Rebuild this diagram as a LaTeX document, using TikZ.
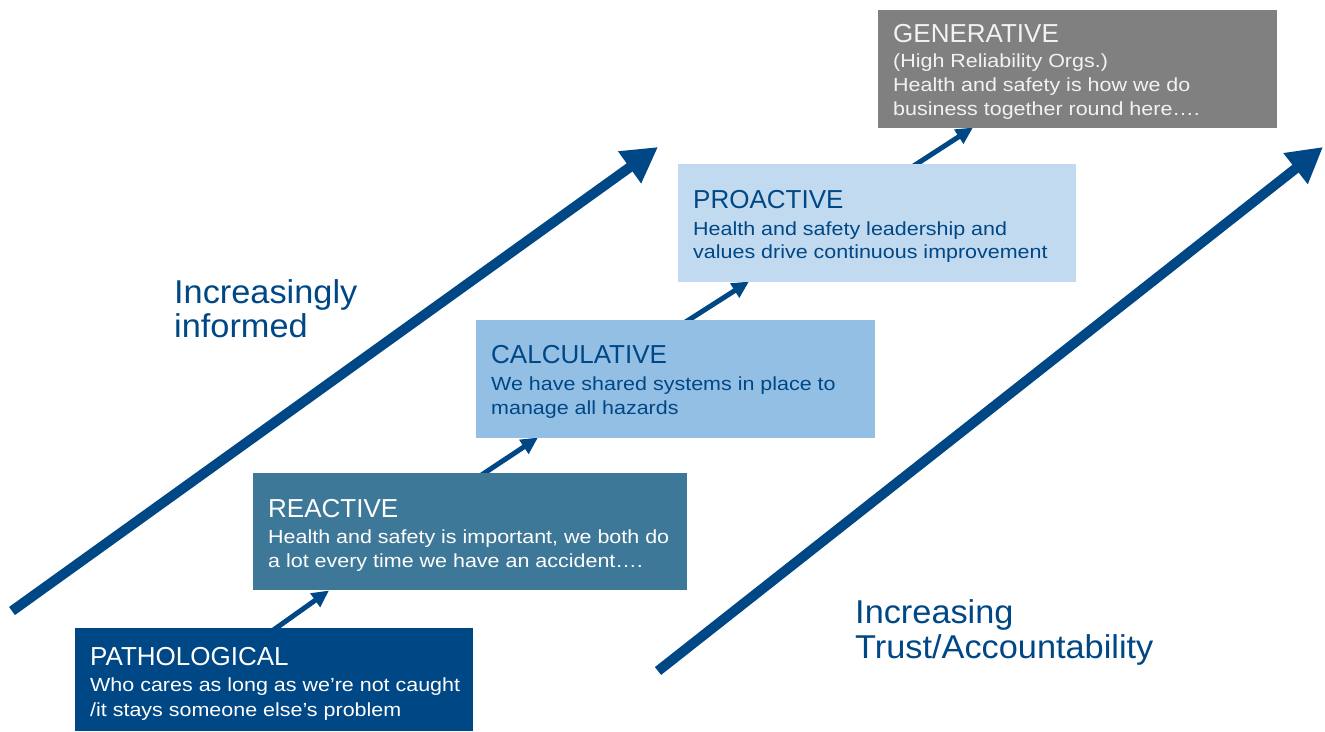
\documentclass[tikz,border=0pt]{standalone}
\usepackage{fontspec}
\setmainfont{Liberation Sans}
\newfontfamily\bodyfont[FakeStretch=1.13]{Liberation Sans}
\newfontfamily\labelfont[FakeStretch=1.04]{Liberation Sans}
\usetikzlibrary{arrows.meta,backgrounds}

\definecolor{navy}{RGB}{0,71,133}
\definecolor{cReact}{RGB}{62,120,152}
\definecolor{cCalc}{RGB}{147,191,229}
\definecolor{cPro}{RGB}{194,218,240}
\definecolor{cGen}{RGB}{128,128,128}
\definecolor{genText}{RGB}{242,242,242}

\tikzset{
  stagebox/.style={rectangle, inner sep=0pt, outer sep=0pt, anchor=north west},
  ttl/.style={anchor=base west, inner sep=0pt, font=\fontsize{26}{30}\selectfont},
  body/.style={anchor=base west, inner sep=0pt, font=\bodyfont\fontsize{19}{23}\selectfont},
  biglabel/.style={anchor=base west, inner sep=0pt, text=navy, font=\labelfont\fontsize{33}{38}\selectfont},
  bigarrow/.style={draw=navy, line width=10pt, -{Triangle[length=35pt,width=37pt]}},
  smallarrow/.style={draw=navy, line width=5pt, -{Triangle[length=17pt,width=16pt]}}
}

\begin{document}
\begin{tikzpicture}[x=1pt,y=-1pt]
\useasboundingbox (0,0) rectangle (1325,731);

% the five stages
\node[stagebox, fill=navy,   minimum width=398pt, minimum height=103pt] (path)  at (75,628) {};
\node[stagebox, fill=cReact, minimum width=434pt, minimum height=117pt] (react) at (253,473) {};
\node[stagebox, fill=cCalc,  minimum width=399pt, minimum height=118pt] (calc)  at (476,320) {};
\node[stagebox, fill=cPro,   minimum width=398pt, minimum height=118pt] (pro)   at (678,164) {};
\node[stagebox, fill=cGen,   minimum width=399pt, minimum height=118pt] (gen)   at (878,10) {};

% step arrows, behind the boxes
\coordinate (s1) at (272,631);  \coordinate (e1) at (329,590.5);
\coordinate (s2) at (480,476);  \coordinate (e2) at (538,437.5);
\coordinate (s3) at (684,323);  \coordinate (e3) at (749,281.5);
\coordinate (s4) at (912,167);  \coordinate (e4) at (973,127.5);
\begin{scope}[on background layer]
  \draw[smallarrow] (s1) -- (e1);
  \draw[smallarrow] (s2) -- (e2);
  \draw[smallarrow] (s3) -- (e3);
  \draw[smallarrow] (s4) -- (e4);
\end{scope}

% stage texts
\node[ttl, text=white] (pathT) at (90,665) {PATHOLOGICAL};
\node[body, text=white] (pathB1) at (90,691) {Who cares as long as we’re not caught};
\node[body, text=white] (pathB2) at (90,716) {/it stays someone else’s problem};

\node[ttl, text=white] (reactT) at (268,517) {REACTIVE};
\node[body, text=white] (reactB1) at (268,543) {Health and safety is important, we both do};
\node[body, text=white] (reactB2) at (268,567) {a lot every time we have an accident….};

\node[ttl, text=navy] (calcT) at (491,363) {CALCULATIVE};
\node[body, text=navy] (calcB1) at (491,390) {We have shared systems in place to};
\node[body, text=navy] (calcB2) at (491,414) {manage all hazards};

\node[ttl, text=navy] (proT) at (693,208) {PROACTIVE};
\node[body, text=navy] (proB1) at (693,235) {Health and safety leadership and};
\node[body, text=navy] (proB2) at (693,258) {values drive continuous improvement};

\node[ttl, text=genText] (genT) at (893,42) {GENERATIVE};
\node[body, text=genText] (genB1) at (893,67) {(High Reliability Orgs.)};
\node[body, text=genText] (genB2) at (893,91) {Health and safety is how we do};
\node[body, text=genText] (genB3) at (893,115) {business together round here….};

% the two long arrows
\coordinate (infoS) at (12,611);  \coordinate (infoE) at (658,147);
\coordinate (trustS) at (658,671); \coordinate (trustE) at (1323,147);
\draw[bigarrow] (infoS) -- (infoE);
\draw[bigarrow] (trustS) -- (trustE);

% arrow labels
\node[biglabel] (infoL1) at (174,303) {Increasingly};
\node[biglabel] (infoL2) at (174,337) {informed};
\node[biglabel] (trustL1) at (855,623) {Increasing};
\node[biglabel] (trustL2) at (855,658) {Trust/Accountability};

\end{tikzpicture}
\end{document}
